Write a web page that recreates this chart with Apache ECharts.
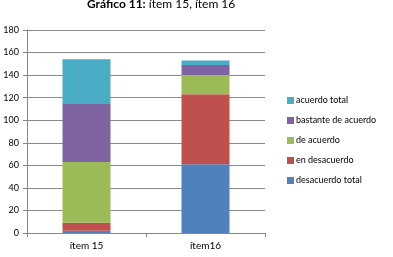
<!DOCTYPE html>
<html>
<head>
<meta charset="utf-8">
<script src="https://cdn.jsdelivr.net/npm/echarts@6/dist/echarts.min.js"></script>
<style>
html,body{margin:0;padding:0;background:#fff;}
#chart{width:393px;height:257px;}
</style>
</head>
<body>
<div id="chart"></div>
<script>
var categories = ['ítem 15', 'ítem16'];
var seriesNames = ['desacuerdo total', 'en desacuerdo', 'de acuerdo', 'bastante de acuerdo', 'acuerdo total'];
var desacuerdoTotal = [2, 61];
var enDesacuerdo = [7, 62];
var deAcuerdo = [54, 17];
var bastanteDeAcuerdo = [52, 9];
var acuerdoTotal = [39, 4];
var yTicks = [0, 20, 40, 60, 80, 100, 120, 140, 160, 180];

var values = [desacuerdoTotal, enDesacuerdo, deAcuerdo, bastanteDeAcuerdo, acuerdoTotal];
var colors = ['#4F81BD', '#C0504D', '#9BBB59', '#8064A2', '#4BACC6'];
var font = 'Lato, "Open Sans", sans-serif';

var chart = echarts.init(document.getElementById('chart'));

var series = [];
for (var i = 0; i < seriesNames.length; i++) {
	series.push({
		name: seriesNames[i],
		type: 'bar',
		stack: 'total',
		barWidth: 48,
		itemStyle: { color: colors[i] },
		data: values[i]
	});
}

chart.setOption({
	animation: false,
	textStyle: { fontFamily: font },
	title: {
		text: '{b|Gráfico 11:} ítem 15, ítem 16',
		left: 82,
		top: -7,
		textStyle: {
			fontSize: 12,
			fontWeight: 'normal',
			color: '#000',
			fontFamily: font,
			rich: { b: { fontWeight: 'bold', fontSize: 12, fontFamily: font } }
		}
	},
	legend: {
		orient: 'vertical',
		left: 282,
		top: 91,
		itemWidth: 7,
		itemHeight: 7,
		itemGap: 11,
		icon: 'rect',
		data: seriesNames.slice().reverse(),
		textStyle: { fontSize: 9, color: '#000', fontFamily: font, padding: [0, 0, 0, -3] }
	},
	grid: { left: 27, right: 128, top: 30, bottom: 24 },
	xAxis: {
		type: 'category',
		data: categories,
		axisLine: { lineStyle: { color: '#868686' } },
		axisTick: { show: true, length: 4, lineStyle: { color: '#868686' } },
		axisLabel: { fontSize: 10, color: '#000', margin: 8 }
	},
	yAxis: {
		type: 'value',
		min: yTicks[0],
		max: yTicks[yTicks.length - 1],
		interval: 20,
		axisLine: { show: true, lineStyle: { color: '#868686' } },
		axisTick: { show: true, length: 4, lineStyle: { color: '#868686' } },
		axisLabel: { fontSize: 9, color: '#000', margin: 8 },
		splitLine: { lineStyle: { color: '#8a8a8a' } }
	},
	series: series
});
</script>
</body>
</html>
